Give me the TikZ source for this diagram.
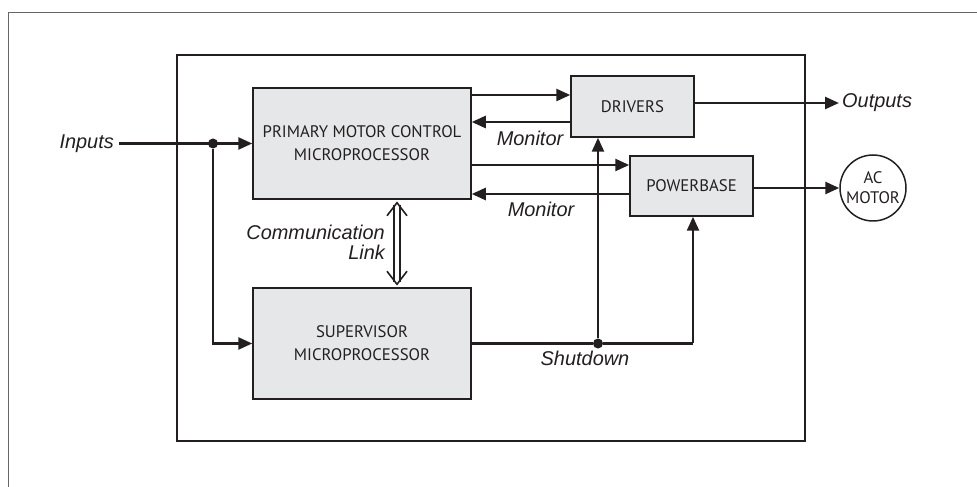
\documentclass[tikz,border=0pt]{standalone}
\usepackage{fontspec}
\setmainfont{Liberation Sans}
\newfontfamily\boxfont{PT Sans}
\usetikzlibrary{arrows.meta,calc}
\definecolor{ink}{HTML}{231F20}
\definecolor{boxfill}{HTML}{E6E7E8}
\begin{document}
\begin{tikzpicture}[x=1bp,y=-1bp,
  blk/.style={draw=ink, line width=1.5bp, fill=boxfill, inner sep=0pt, align=center,
    font=\boxfont\fontsize{16.8}{23}\selectfont, text=ink},
  lbl/.style={font=\itshape\fontsize{20}{22}\selectfont, text=ink, inner sep=0pt},
  arr/.style={draw=ink, line width=2.5bp, -{Triangle[length=14bp,width=12bp]}},
  wire/.style={draw=ink, line width=2.5bp},
  dot/.style={circle, fill=ink, inner sep=0pt, minimum size=10bp},
  link/.style={draw=ink, line width=1.6bp, miter limit=10}]
\useasboundingbox (0,0) rectangle (977,487);
% outer frame (clipped)
\draw[gray!80!black, line width=1bp] (8,487) -- (8,13) -- (977,13);
% inner frame
\draw[ink, line width=2bp] (177,55) rectangle (805,441);
% blocks
\node[blk, minimum width=218bp, minimum height=111bp] (pm) at (362,143.5) {PRIMARY MOTOR CONTROL\\MICROPROCESSOR};
\node[blk, minimum width=218bp, minimum height=111bp] (sup) at (362,343.5) {SUPERVISOR\\MICROPROCESSOR};
\node[blk, minimum width=123bp, minimum height=61bp] (drv) at (632.5,106.5) {DRIVERS};
\node[blk, minimum width=123bp, minimum height=60bp] (pb) at (691.5,186) {POWERBASE};
\node[draw=ink, line width=1.5bp, circle, minimum size=66bp, inner sep=0pt, align=center,
  font=\boxfont\fontsize{16.8}{20}\selectfont, text=ink] (motor) at (873,188) {AC\\MOTOR};
% labels
\node[lbl, anchor=east] (in) at (114,143.5) {Inputs};
\node[lbl, anchor=west] (out) at (842,103) {Outputs};
\node[lbl] (mon1) at (530,138) {Monitor};
\node[lbl] (mon2) at (541,209) {Monitor};
\node[lbl] (shut) at (585,358) {Shutdown};
\node[lbl, anchor=east, align=right, font=\itshape\fontsize{20}{20}\selectfont] (comm) at (385,242) {Communication\\Link};
% junctions
\node[dot] (j1) at (213,143.5) {};
\node[dot] (j2) at (598,343.5) {};
% inputs
\draw[arr] ([xshift=5bp]in.east) -- (pm.west);
\draw[arr] (j1) |- (sup.west);
% primary <-> drivers
\draw[arr] (pm.east |- 0,95) -- (drv.west |- 0,95);
\draw[arr] (drv.west |- 0,122) -- (pm.east |- 0,122);
% primary <-> powerbase
\draw[arr] (pm.east |- 0,165) -- (pb.west |- 0,165);
\draw[arr] (pb.west |- 0,194) -- (pm.east |- 0,194);
% outputs
\draw[arr] (drv.east |- 0,103) -- ([xshift=-3bp]out.west);
\draw[arr] (pb.east |- motor.west) -- (motor.west);
% shutdown
\coordinate (sc) at (693,343.5);
\draw[wire] (sup.east) -- (j2) -- (sc);
\draw[arr] (sc) -- (sc |- pb.south);
\draw[arr] (j2) -- (j2 |- drv.south);
% communication link (double line, open chevron heads)
\coordinate (ct) at ($(397,0 |- pm.south)+(0,3)$);
\coordinate (cb) at ($(397,0 |- sup.north)+(0,-3)$);
\draw[link] ($(ct)+(-2.8,2)$) -- ($(cb)+(-2.8,-2)$);
\draw[link] ($(ct)+(2.8,2)$) -- ($(cb)+(2.8,-2)$);
\draw[link] ($(ct)+(-10,13)$) -- (ct) -- ($(ct)+(10,13)$);
\draw[link] ($(cb)+(-10,-13)$) -- (cb) -- ($(cb)+(10,-13)$);
\end{tikzpicture}
\end{document}
